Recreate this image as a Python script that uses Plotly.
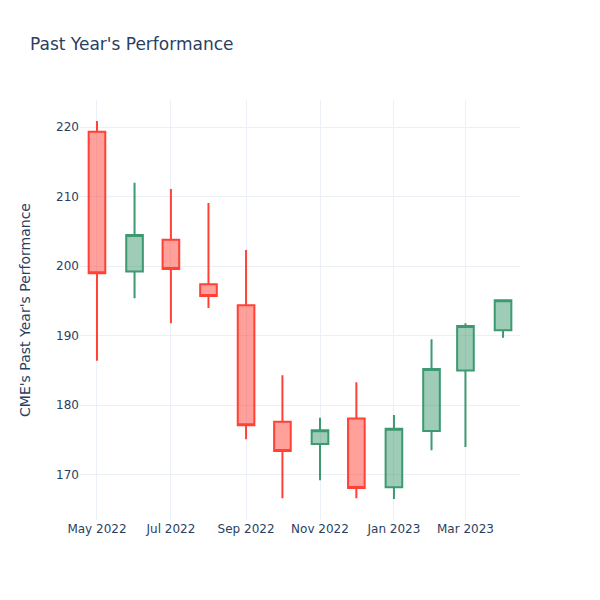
import plotly.graph_objects as go

dates = ["2022-05-01", "2022-06-01", "2022-07-01", "2022-08-01", "2022-09-01", "2022-10-01",
         "2022-11-01", "2022-12-01", "2023-01-01", "2023-02-01", "2023-03-01", "2023-04-01"]
opens = [219.35, 199.25, 203.8, 197.4, 194.4, 177.6, 174.4, 178.1, 168.2, 176.3, 185.0, 190.8]
highs = [220.9, 212.0, 211.1, 209.1, 202.35, 184.3, 178.2, 183.3, 178.6, 189.5, 191.8, 195.2]
lows = [186.4, 195.4, 191.8, 194.0, 175.1, 166.6, 169.2, 166.6, 166.5, 173.5, 174.0, 189.7]
closes = [199.0, 204.5, 199.6, 195.7, 177.1, 173.4, 176.4, 168.1, 176.6, 185.2, 191.4, 195.1]

fig = go.Figure(go.Candlestick(x=dates, open=opens, high=highs, low=lows, close=closes))
fig.update_layout(
    template="plotly_white",
    title="Past Year's Performance",
    xaxis_rangeslider_visible=False,
    font_family="DejaVu Sans",
    width=600, height=600,
)
fig.update_yaxes(title_text="CME's Past Year's Performance", title_standoff=22)
fig.write_html("out.html", config={"displayModeBar": False},
               post_script="document.body.style.margin='0';")
